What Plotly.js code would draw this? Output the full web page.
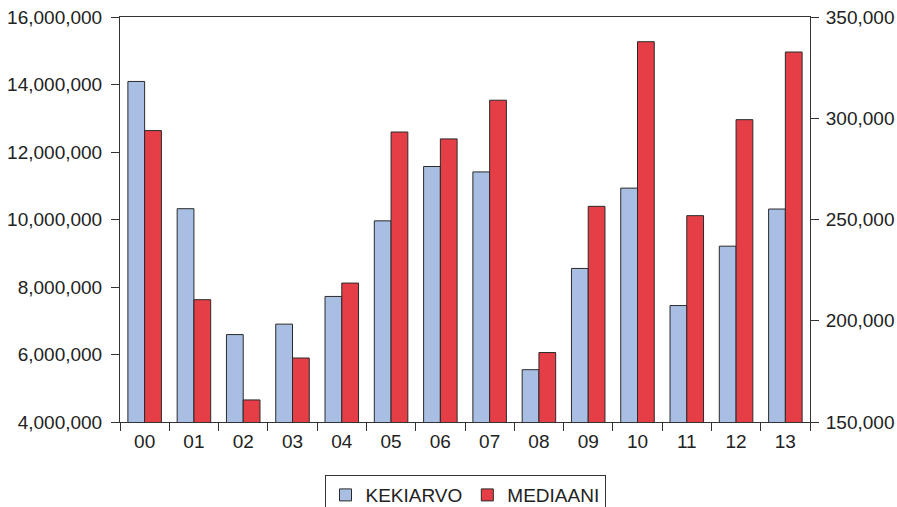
<!DOCTYPE html>
<html>
<head>
<meta charset="utf-8">
<script src="https://cdn.plot.ly/plotly-3.0.1.min.js"></script>
<style>html,body{margin:0;padding:0;background:#fff;}#chart{width:897px;height:507px;}</style>
</head>
<body>
<div id="chart"></div>
<script>
const categories = ["00","01","02","03","04","05","06","07","08","09","10","11","12","13"];
const kekiarvo = [14090000,10320000,6590000,6900000,7720000,9960000,11570000,11410000,5550000,8550000,10930000,7450000,9210000,10310000];
const mediaani = [293900,210400,160900,181600,218600,293200,289800,308900,184300,256500,337800,251900,299300,332700];
const leftTicks = [4000000,6000000,8000000,10000000,12000000,14000000,16000000];
const rightTicks = [150000,200000,250000,300000,350000];

const fmt = v => v.toLocaleString('en-US');
const lineCol = '#333333';
const font = {family: 'Liberation Sans, Arial, sans-serif', size: 19, color: '#222'};

const traces = [
  {type:'bar', name:'KEKIARVO', x:categories, y:kekiarvo, yaxis:'y', width:0.34, offset:-0.34,
   marker:{color:'#a8bfe3', line:{color:'#2a2a2a', width:1}}},
  {type:'bar', name:'MEDIAANI', x:categories, y:mediaani, yaxis:'y2', width:0.34, offset:0,
   marker:{color:'#e63e46', line:{color:'#2a2a2a', width:1}}}
];

const layout = {
  width:897, height:507,
  margin:{l:120, r:87, t:17, b:85, autoexpand:false},
  paper_bgcolor:'#fff', plot_bgcolor:'#fff',
  font:font,
  showlegend:true,
  legend:{orientation:'h', x:0.5, xanchor:'center', y:-0.131, yanchor:'top',
          bordercolor:lineCol, borderwidth:1, font:font, traceorder:'normal'},
  xaxis:{type:'category', range:[-0.5,13.5], tickson:'boundaries', ticks:'outside', ticklen:8,
         tickcolor:lineCol, showline:true, linecolor:lineCol, linewidth:1, mirror:true,
         showgrid:false, zeroline:false, tickfont:font, ticklabelstandoff:2},
  yaxis:{range:[4000000,16000000], tickvals:leftTicks, ticktext:leftTicks.map(fmt), ticks:'outside',
         ticklen:8, tickcolor:lineCol, showline:true, linecolor:lineCol, linewidth:1, mirror:true,
         showgrid:false, zeroline:false, tickfont:font, ticklabelstandoff:5},
  yaxis2:{overlaying:'y', side:'right', range:[150000,350000], tickvals:rightTicks,
          ticktext:rightTicks.map(fmt), ticks:'outside', ticklen:8, tickcolor:lineCol,
          showline:true, linecolor:lineCol, linewidth:1, showgrid:false, zeroline:false,
          tickfont:font, ticklabelstandoff:3},
  bargap:0.32
};

Plotly.newPlot('chart', traces, layout, {displayModeBar:false, staticPlot:true});
</script>
</body>
</html>
